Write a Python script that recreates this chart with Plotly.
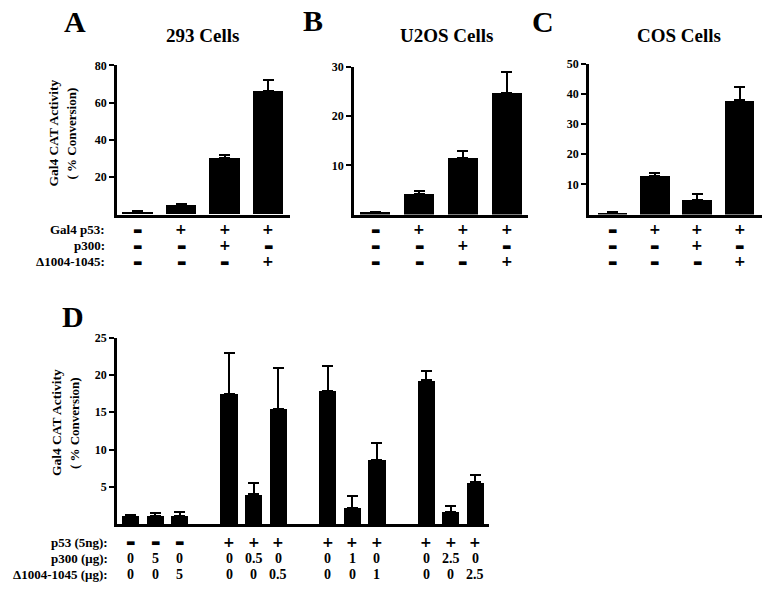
import plotly.graph_objects as go

W, H = 783, 602

# ---------------- data ----------------
a_vals = [1.3, 4.7, 30.3, 66.0]
a_err = [0.5, 0.7, 1.4, 6.3]
b_vals = [0.5, 4.2, 11.5, 24.8]
b_err = [0.1, 0.6, 1.5, 4.2]
c_vals = [0.6, 12.8, 4.9, 37.9]
c_err = [0.1, 1.0, 1.9, 4.5]
abc_gal4_p53 = ["-", "+", "+", "+"]
abc_p300 = ["-", "-", "+", "-"]
abc_d1004 = ["-", "-", "-", "+"]
abc_row_labels = ["Gal4 p53:", "p300:", "Δ1004-1045:"]

d_vals = [1.2, 1.1, 1.1, 17.5, 4.0, 15.5, 17.9, 2.2, 8.6, 19.3, 1.7, 5.6]
d_err = [0.1, 0.4, 0.6, 5.5, 1.5, 5.4, 3.3, 1.55, 2.3, 1.2, 0.8, 1.0]
d_p53 = ["-", "-", "-", "+", "+", "+", "+", "+", "+", "+", "+", "+"]
d_p300 = ["0", "5", "0", "0", "0.5", "0", "0", "1", "0", "0", "2.5", "0"]
d_d1004 = ["0", "0", "5", "0", "0", "0.5", "0", "0", "1", "0", "0", "2.5"]
d_row_labels = ["p53 (5ng):", "p300 (μg):", "Δ1004-1045 (μg):"]

titles = ["293 Cells", "U2OS Cells", "COS Cells"]
panel_letters = ["A", "B", "C", "D"]
ytitle = ["Gal4 CAT Activity", "( % Conversion)"]

# ---------------- helpers ----------------
def X(px):
    return px / W

def Y(py):
    return 1 - py / H

def TY(py, size):
    # visual centre of text -> annotation anchor (compensate for line box)
    return Y(py - 0.28 * size)

SERIF = "Liberation Serif"

abc_x = list(range(1, len(a_vals) + 1))
d_x = [g * 4 + k for g in range(4) for k in range(3)]

fig = go.Figure()

def add_bars(xs, vals, errs, xa, ya):
    fig.add_trace(go.Bar(
        x=xs, y=vals, width=0.7, xaxis=xa, yaxis=ya,
        marker=dict(color="black", line=dict(width=0)),
        error_y=dict(type="data", array=errs, arrayminus=[0] * len(errs),
                     symmetric=False, color="black", thickness=2, width=5.5),
        showlegend=False, hoverinfo="skip",
    ))

add_bars(abc_x, a_vals, a_err, "x", "y")
add_bars(abc_x, b_vals, b_err, "x2", "y2")
add_bars(abc_x, c_vals, c_err, "x3", "y3")
add_bars(d_x, d_vals, d_err, "x4", "y4")

tickfont = dict(family=SERIF, size=12, color="black", weight="bold")

def xax(dom, rng):
    return dict(domain=[X(dom[0]), X(dom[1])], range=rng, showline=True,
                linecolor="black", linewidth=3, showticklabels=False,
                ticks="", showgrid=False, zeroline=False, fixedrange=True)

def yax(dom, rng, tv, anchor):
    return dict(domain=[Y(dom[1]), Y(dom[0])], range=rng, showline=True,
                linecolor="black", linewidth=2.5, tickvals=tv,
                ticks="outside", ticklen=5, tickwidth=2, tickcolor="black",
                tickfont=tickfont, showgrid=False, zeroline=False,
                anchor=anchor, fixedrange=True)

fig.update_layout(
    width=W, height=H, margin=dict(l=0, r=0, t=0, b=0),
    paper_bgcolor="white", plot_bgcolor="white", bargap=0,
    xaxis=dict(xax((117, 290), [0.53, 4.5]), anchor="y"),
    yaxis=yax((59, 210), [0, 80], [20, 40, 60, 80], "x"),
    xaxis2=dict(xax((354, 528), [0.52, 4.48]), anchor="y2"),
    yaxis2=yax((60.7, 210), [0, 30], [10, 20, 30], "x2"),
    xaxis3=dict(xax((589, 762), [0.44, 4.53]), anchor="y3"),
    yaxis3=yax((57.3, 210), [0, 50], [10, 20, 30, 40, 50], "x3"),
    xaxis4=dict(xax((117, 489), [-0.55, 14.55]), anchor="y4"),
    yaxis4=yax((334.5, 523.3), [0, 25], [5, 10, 15, 20, 25], "x4"),
)

ann = []
MINUS_SIZE = 10
PLUS_SIZE = 14

def sym_text(s):
    return "▬" if s == "-" else "<b>+</b>"

def sym_size(s):
    return MINUS_SIZE if s == "-" else PLUS_SIZE

def sym_ann(xi, xr, ry, s):
    sz = sym_size(s)
    return dict(x=xi, xref=xr, y=TY(ry, sz), yref="paper", text=sym_text(s),
                font=dict(family="DejaVu Sans", size=sz, color="black"),
                showarrow=False, xanchor="center", yanchor="middle")

# symbol rows under A, B, C
row_y_abc = [229, 245, 261]
for xr in ["x", "x2", "x3"]:
    for rows, ry in zip([abc_gal4_p53, abc_p300, abc_d1004], row_y_abc):
        for xi, s in zip(abc_x, rows):
            ann.append(sym_ann(xi, xr, ry, s))
LAB = 13
for lab, ry in zip(abc_row_labels, row_y_abc):
    ann.append(dict(x=X(107), xref="paper", y=TY(ry, LAB), yref="paper",
                    text="<b>" + lab + "</b>", showarrow=False,
                    font=dict(family=SERIF, size=LAB, color="black"),
                    xanchor="right", yanchor="middle"))

# rows under D
row_y_d = [545, 562, 578]
for xi, s in zip(d_x, d_p53):
    ann.append(sym_ann(xi, "x4", row_y_d[0], s))
VAL = 14
for rows, ry in zip([d_p300, d_d1004], row_y_d[1:]):
    for xi, s in zip(d_x, rows):
        ann.append(dict(x=xi, xref="x4", y=TY(ry, VAL), yref="paper", text="<b>" + s + "</b>",
                        font=dict(family=SERIF, size=VAL, color="black"), showarrow=False,
                        xanchor="center", yanchor="middle"))
for lab, ry in zip(d_row_labels, row_y_d):
    ann.append(dict(x=X(110), xref="paper", y=TY(ry, LAB), yref="paper",
                    text="<b>" + lab + "</b>", showarrow=False,
                    font=dict(family=SERIF, size=LAB, color="black"),
                    xanchor="right", yanchor="middle"))

# titles
TS = 19
for t, cx in zip(titles, [202, 446, 679]):
    ann.append(dict(x=X(cx), xref="paper", y=TY(34, TS), yref="paper", text="<b>" + t + "</b>",
                    showarrow=False, font=dict(family=SERIF, size=TS, color="black"),
                    xanchor="center", yanchor="middle"))

# panel letters
LS = 30
for L, cx, cy in zip(panel_letters, [75, 313, 543, 73], [23, 22, 23, 322]):
    ann.append(dict(x=X(cx), xref="paper", y=TY(cy, LS), yref="paper", text="<b>" + L + "</b>",
                    showarrow=False, font=dict(family=SERIF, size=LS, color="black"),
                    xanchor="center", yanchor="middle"))

# y-axis titles for A and D
for cx1, cx2, cy in [(57, 75, 128), (59, 77, 421)]:
    ann.append(dict(x=X(cx1 - 3), xref="paper", y=Y(cy), yref="paper", text="<b>" + ytitle[0] + "</b>",
                    textangle=-90, showarrow=False,
                    font=dict(family=SERIF, size=13.5, color="black"),
                    xanchor="center", yanchor="middle"))
    ann.append(dict(x=X(cx2 - 3), xref="paper", y=Y(cy), yref="paper", text="<b>" + ytitle[1] + "</b>",
                    textangle=-90, showarrow=False,
                    font=dict(family=SERIF, size=13, color="black"),
                    xanchor="center", yanchor="middle"))

fig.update_layout(annotations=ann)
fig.write_html("out.html", config={"displayModeBar": False},
               post_script="document.body.style.margin='0';document.body.style.padding='0';document.body.style.overflow='hidden';")
